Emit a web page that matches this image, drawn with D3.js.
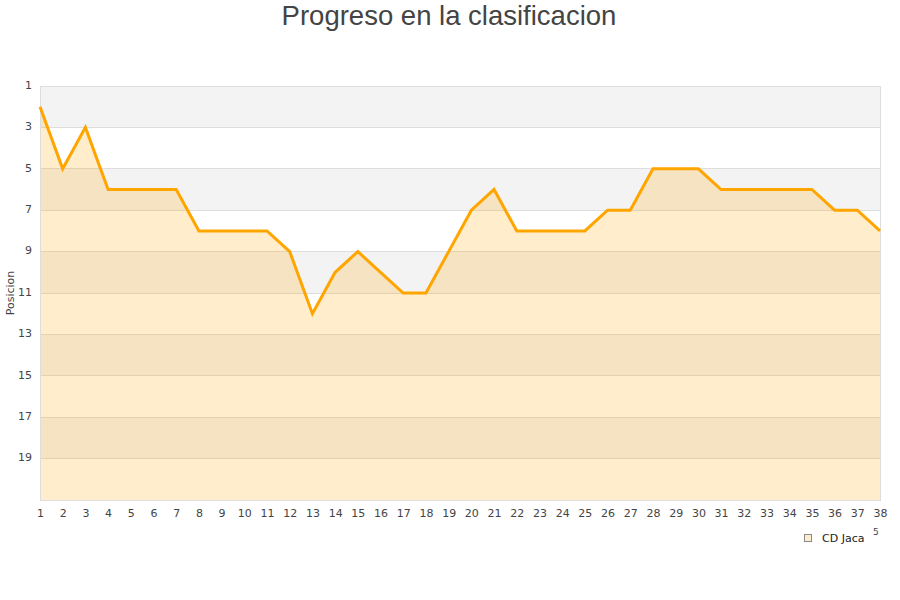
<!DOCTYPE html>
<html><head><meta charset="utf-8">
<script src="https://cdn.jsdelivr.net/npm/d3@7"></script>
<style>body{margin:0;background:#fff}</style>
</head><body>
<svg id="c" width="900" height="600"></svg>
<script>
const jornadas = d3.range(1, 39);
const posiciones = [2,5,3,6,6,6,6,8,8,8,8,9,12,10,9,10,11,11,9,7,6,8,8,8,8,7,7,5,5,5,6,6,6,6,6,7,7,8];
const yTicks = [1,3,5,7,9,11,13,15,17,19];
const bands = [[1,3],[5,7],[9,11],[13,15],[17,19]];
const title = "Progreso en la clasificacion";
const yLabel = "Posicion";
const seriesName = "CD Jaca";

const svg = d3.select("#c");
const L = 40, R = 880, T = 86, B = 500;
const x = d3.scaleLinear().domain([1, 38]).range([L, R]);
const y = d3.scaleLinear().domain([1, 21]).range([T, B]);

svg.append("text").attr("x", 449).attr("y", 25).attr("text-anchor", "middle")
  .attr("font-family", "Liberation Sans, Arial, sans-serif").attr("font-size", 27.5)
  .attr("fill", "#444").text(title);

// bands
svg.selectAll(".band").data(bands).enter().append("rect")
  .attr("x", L).attr("width", R - L)
  .attr("y", d => y(d[0])).attr("height", d => y(d[1]) - y(d[0]))
  .attr("fill", "#f3f3f3");

// grid
svg.selectAll(".grid").data(yTicks.slice(1)).enter().append("line")
  .attr("x1", L).attr("x2", R).attr("y1", d => y(d)).attr("y2", d => y(d))
  .attr("stroke", "#ddd").attr("stroke-width", 1).attr("shape-rendering", "crispEdges");

// area
const area = d3.area().x((d, i) => x(jornadas[i])).y0(y(21)).y1(d => y(d));
svg.append("path").datum(posiciones).attr("d", area).attr("fill", "rgba(255,165,0,0.2)");

// border
svg.append("rect").attr("x", L + 0.5).attr("y", T + 0.5).attr("width", R - L).attr("height", B - T)
  .attr("fill", "none").attr("stroke", "#ddd").attr("shape-rendering", "crispEdges");

// line
const line = d3.line().x((d, i) => x(jornadas[i])).y(d => y(d));
svg.append("path").datum(posiciones).attr("d", line).attr("fill", "none")
  .attr("stroke", "#ffa500").attr("stroke-width", 3).attr("stroke-linejoin", "miter");

// axes
const font = "DejaVu Sans, sans-serif";
const yAxis = svg.append("g").attr("transform", `translate(${L - 8},0)`)
  .call(d3.axisLeft(y).tickValues(yTicks).tickSize(0).tickPadding(0));
yAxis.select(".domain").remove();
yAxis.selectAll("text").attr("font-family", font).attr("font-size", 11).attr("fill", "#444").attr("dy", "0.2em");

const xAxis = svg.append("g").attr("transform", `translate(0,${B + 9})`)
  .call(d3.axisBottom(x).tickValues(jornadas).tickFormat(d3.format("d")).tickSize(0).tickPadding(0));
xAxis.select(".domain").remove();
xAxis.selectAll("text").attr("font-family", font).attr("font-size", 11).attr("fill", "#444");

svg.append("text").attr("transform", "translate(14,293) rotate(-90)").attr("text-anchor", "middle")
  .attr("font-family", font).attr("font-size", 11).attr("fill", "#444").text(yLabel);

// legend
svg.append("rect").attr("x", 804.5).attr("y", 534.5).attr("width", 7).attr("height", 7)
  .attr("fill", "#feedcc").attr("stroke", "#888");
svg.append("text").attr("x", 822).attr("y", 542).attr("font-family", font).attr("font-size", 11)
  .attr("font-weight", "normal").attr("fill", "#222").text(seriesName);
svg.append("text").attr("x", 873).attr("y", 535).attr("font-family", font).attr("font-size", 9)
  .attr("fill", "#444").text("5");
</script>
</body></html>
